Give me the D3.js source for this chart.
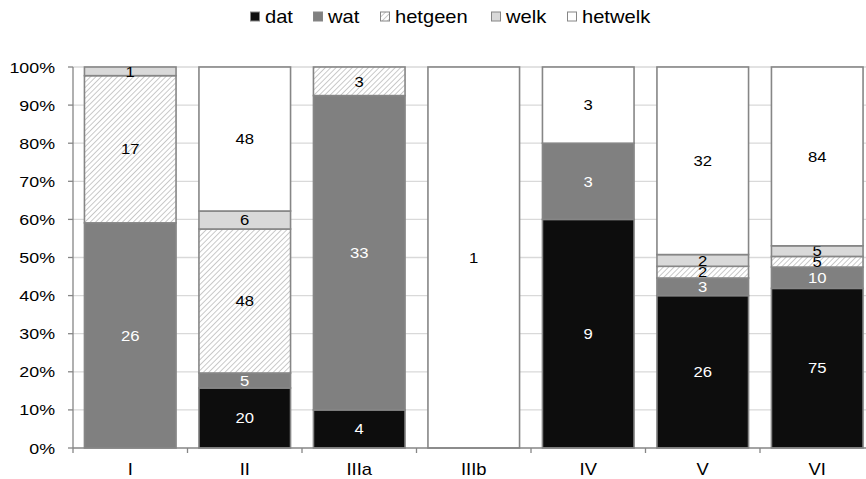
<!DOCTYPE html>
<html>
  <head>
    <meta charset="utf-8">
    <title>dat / wat / hetgeen / welk / hetwelk</title>
    <script src="https://cdn.jsdelivr.net/npm/d3@7"></script>
    <style>
      body { margin: 0; background: #fff; }
      text { font-family: "Liberation Sans", Arial, sans-serif; fill: #000; }
    </style>
  </head>
  <body>
    <svg id="chart" width="866" height="479"></svg>
    <script>
      // data
      categories = ["I", "II", "IIIa", "IIIb", "IV", "V", "VI"];
      seriesNames = ["dat", "wat", "hetgeen", "welk", "hetwelk"];
      dat = [0, 20, 4, 0, 9, 26, 75];
      wat = [26, 5, 33, 0, 3, 3, 10];
      hetgeen = [17, 48, 3, 0, 0, 2, 5];
      welk = [1, 6, 0, 0, 0, 2, 5];
      hetwelk = [0, 48, 0, 1, 3, 32, 84];
      yTicks = [0, 0.1, 0.2, 0.3, 0.4, 0.5, 0.6, 0.7, 0.8, 0.9, 1];

      fills = {
        dat: "#0d0d0d",
        wat: "#808080",
        hetgeen: "url(#hatch)",
        welk: "#d9d9d9",
        hetwelk: "#ffffff"
      };
      labelColours = { dat: "#fff", wat: "#fff", hetgeen: "#000", welk: "#000", hetwelk: "#000" };
      stretch = 1.15; // the reference text is a little wider than it is tall

      table = categories.map(function(c, i) {
        return { cat: c, dat: dat[i], wat: wat[i], hetgeen: hetgeen[i], welk: welk[i], hetwelk: hetwelk[i] };
      });

      svg = d3.select("#chart");

      function place(px, py) {
        return "translate(" + px + "," + py + ") scale(" + stretch + ",1)";
      }

      // hatch pattern
      pattern = svg.append("defs").append("pattern")
        .attr("id", "hatch")
        .attr("patternUnits", "userSpaceOnUse")
        .attr("width", 3.8)
        .attr("height", 3.8)
        .attr("patternTransform", "rotate(45)");
      pattern.append("rect")
        .attr("width", 3.8).attr("height", 3.8).attr("fill", "#fff");
      pattern.append("line")
        .attr("x1", 0).attr("y1", 0).attr("x2", 0).attr("y2", 3.8)
        .attr("stroke", "#b8b8b8").attr("stroke-width", 1.5);

      // scales
      left = 73;
      x = d3.scaleBand()
        .domain(categories)
        .range([left, left + 7 * 114.5])
        .paddingInner(0.2)
        .paddingOuter(0.1);
      y = d3.scaleLinear()
        .domain([0, 1])
        .range([448, 67]);

      stack = d3.stack()
        .keys(seriesNames)
        .offset(d3.stackOffsetExpand);
      layers = stack(table);

      // gridlines
      svg.append("g")
        .selectAll("line")
        .data(yTicks.slice(1))
      .enter().append("line")
        .attr("x1", left).attr("x2", 866)
        .attr("y1", function(d) { return y(d); })
        .attr("y2", function(d) { return y(d); })
        .attr("stroke", "#d9d9d9")
        .attr("stroke-width", 1.3);

      // bars
      groups = svg.append("g")
        .selectAll("g")
        .data(layers)
      .enter().append("g");

      groups.selectAll("rect")
        .data(function(l) { return l.map(function(d) { return { key: l.key, d: d }; }); })
      .enter().filter(function(s) { return s.d[1] - s.d[0] > 0; })
        .append("rect")
        .attr("x", function(s) { return x(s.d.data.cat); })
        .attr("width", x.bandwidth())
        .attr("y", function(s) { return y(s.d[1]); })
        .attr("height", function(s) { return y(s.d[0]) - y(s.d[1]); })
        .attr("fill", function(s) { return fills[s.key]; })
        .attr("stroke", "#868686")
        .attr("stroke-width", 1.6);

      groups.selectAll("text")
        .data(function(l) { return l.map(function(d) { return { key: l.key, d: d }; }); })
      .enter().filter(function(s) { return s.d.data[s.key] > 0; })
        .append("text")
        .attr("transform", function(s) {
          return place(x(s.d.data.cat) + x.bandwidth() / 2, (y(s.d[0]) + y(s.d[1])) / 2);
        })
        .attr("dy", "0.36em")
        .attr("text-anchor", "middle")
        .attr("font-size", 14.5)
        .style("fill", function(s) { return labelColours[s.key]; })
        .text(function(s) { return s.d.data[s.key]; });

      // y axis
      yG = svg.append("g");
      yG.append("line")
        .attr("x1", left).attr("x2", left)
        .attr("y1", y(0)).attr("y2", y(1))
        .attr("stroke", "#868686").attr("stroke-width", 1.3);
      yG.selectAll(".tick")
        .data(yTicks)
      .enter().append("line")
        .attr("x1", left - 5).attr("x2", left)
        .attr("y1", function(d) { return y(d); })
        .attr("y2", function(d) { return y(d); })
        .attr("stroke", "#868686").attr("stroke-width", 1.3);
      yG.selectAll(".lab")
        .data(yTicks)
      .enter().append("text")
        .attr("transform", function(d) { return place(55, y(d)); })
        .attr("dy", "0.36em")
        .attr("text-anchor", "end")
        .attr("font-size", 15.5)
        .text(d3.format(".0%"));

      // x axis
      xG = svg.append("g").attr("transform", "translate(0," + y(0) + ")");
      xG.append("line")
        .attr("x1", left).attr("x2", 866)
        .attr("stroke", "#868686").attr("stroke-width", 1.3);
      xG.selectAll(".tick")
        .data(d3.range(0, 8))
      .enter().append("line")
        .attr("x1", function(i) { return left + i * x.step(); })
        .attr("x2", function(i) { return left + i * x.step(); })
        .attr("y1", 0).attr("y2", 5)
        .attr("stroke", "#868686").attr("stroke-width", 1.3);
      xG.selectAll(".lab")
        .data(categories)
      .enter().append("text")
        .attr("transform", function(d) { return place(x(d) + x.bandwidth() / 2, 26.5); })
        .attr("text-anchor", "middle")
        .attr("font-size", 16)
        .text(function(d) { return d; });

      // legend
      legend = svg.append("g").attr("transform", "translate(0,17)");
      legendX = [250, 313, 380, 491, 567];
      items = legend.selectAll("g")
        .data(seriesNames)
      .enter().append("g")
        .attr("transform", function(d, i) { return "translate(" + legendX[i] + ",0)"; });
      items.append("rect")
        .attr("x", 0.5).attr("y", -5)
        .attr("width", 9).attr("height", 9)
        .attr("fill", function(d) { return fills[d]; })
        .attr("stroke", "#868686");
      items.append("text")
        .attr("transform", place(15, 0))
        .attr("dy", "0.36em")
        .attr("font-size", 17.5)
        .text(function(d) { return d; });
    </script>
  </body>
</html>
